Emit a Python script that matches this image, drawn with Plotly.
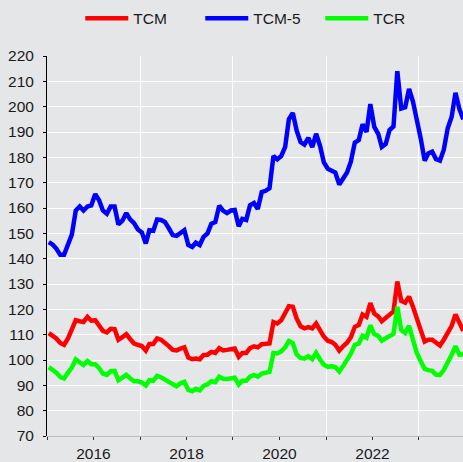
import plotly.graph_objects as go
import pandas as pd

dates = pd.date_range("2015-01-01", periods=108, freq="MS") + pd.Timedelta(days=14)

tcm5 = [146.5, 145.5, 144, 141.5, 141.5, 146, 149.5, 159, 160.6, 159, 160.6, 161,
        165.5, 163, 159, 157.7, 160.6, 160.6, 153.5, 155, 158, 155.5, 154, 151.5,
        150.4, 146, 151.2, 151, 155.5, 155.3, 154.5, 152, 149.3, 149, 150, 151.2,
        145.4, 144.6, 146.3, 145.4, 148.6, 150, 153.8, 154.4, 160.9, 159, 158, 159,
        159.2, 152.8, 155.7, 155.3, 161.1, 162, 159.6, 166.3, 166.8, 167.8, 180.5, 179.2,
        180.5, 184.1, 195, 197.5, 190.6, 186, 185, 187.7, 184, 189.3, 184.5, 178,
        175.5, 174.8, 174, 169.3, 171.4, 174, 178.3, 185.8, 186.8, 193, 190, 201,
        192, 189.3, 184.1, 185.3, 190.8, 192.2, 214, 199.3, 199.8, 207, 202, 195.1,
        187.4, 178.7, 181.5, 182.2, 179.3, 178.7, 183, 191.5, 196, 205.5, 199, 195]

tcm = [110.6, 109.5, 108.5, 106.7, 106, 108.5, 112, 115.7, 115.3, 115, 117, 115.5,
       115.7, 113.5, 111.5, 110.9, 112.3, 112.2, 108, 109, 110.2, 108.3, 106.5, 106,
       105.5, 103.7, 106.3, 106.3, 108.5, 108, 107, 105.5, 104, 103.8, 104.5, 105,
       101, 100.3, 100.6, 100.3, 102, 102.1, 103.2, 102.8, 104.7, 103.8, 104, 104.3,
       104.5, 101.3, 102.8, 102.8, 104.7, 105.4, 105, 106.2, 106.3, 106.5, 115, 114.4,
       115.7, 118.3, 121.2, 121, 116.4, 113.3, 112.5, 113, 112.5, 114.4, 111.8, 109.2,
       107.6, 107.1, 106, 103.7, 105.4, 106.8, 109, 113.1, 113.8, 117.9, 117, 122.5,
       118.3, 117.2, 115.3, 116.6, 118.3, 119.2, 131, 123.3, 122.6, 125, 121, 115.7,
       111.8, 107.3, 108, 108, 106.7, 105.7, 108, 111, 113.5, 118, 115, 111.5]

tcr = [97.2, 96.3, 95, 93.3, 92.7, 95, 97, 100.2, 99.2, 98, 99.6, 98.3,
       98.3, 96.8, 94.6, 94.1, 95.6, 95.7, 92, 93.1, 94.1, 92.8, 91.6, 91.6,
       91.1, 89.9, 92, 91.8, 93.7, 93.2, 92.2, 91.2, 90.3, 89.6, 90.8, 91.4,
       88.2, 87.7, 88.6, 88, 89.8, 90.4, 91.6, 91.2, 93.4, 92.6, 92.5, 92.8,
       93, 90.3, 91.8, 91.8, 93.4, 94.1, 93.4, 94.6, 95, 95.3, 102.8, 102.6,
       103.4, 105, 107.5, 106.7, 102.2, 100.8, 100.5, 101.5, 100.3, 102.8, 100.2, 98.1,
       97.3, 97.5, 97.2, 95.4, 97.6, 99.8, 102.5, 106, 106.5, 109.6, 108.8, 113.7,
       110.2, 109.5, 107.6, 108.6, 109.6, 110.3, 121, 111.8, 110.6, 113.5, 108, 102.8,
       99.5, 96.5, 96, 95.7, 94.2, 94.1, 96, 99.6, 102.1, 105.5, 102.1, 102.3]

series = [("TCM", tcm, "#ff0000"), ("TCM-5", tcm5, "#0000ff"), ("TCR", tcr, "#00ff00")]

bg = "#e5e6e8"
fig = go.Figure()
for name, vals, col in series:
    fig.add_trace(go.Scatter(x=dates, y=vals, mode="lines", name=name,
                             line=dict(color=col, width=4.5)))

fig.update_layout(
    width=463, height=462,
    margin=dict(l=47, r=0, t=56, b=19),
    paper_bgcolor=bg, plot_bgcolor=bg,
    font=dict(family="Liberation Sans, Arial, sans-serif", size=15.5, color="#1a1a1a"),
    showlegend=True,
    legend=dict(orientation="h", x=0.08, xanchor="left", y=1.098, yanchor="middle",
                bgcolor="rgba(0,0,0,0)", font=dict(size=15.5),
                itemwidth=43, entrywidth=62, entrywidthmode="pixels"),
)
fig.update_xaxes(
    type="date",
    range=["2015-01-01", "2023-12-13"],
    tick0="2016-01-01", dtick="M24", tickformat="%Y",
    ticks="outside", ticklen=3, tickcolor="#333333",
    showgrid=False, zeroline=False,
    showline=True, linecolor="#bdbdbd", linewidth=1,
    minor=dict(dtick="M12", tick0="2015-01-01", ticks="outside", ticklen=3,
               tickcolor="#333333", showgrid=True, gridcolor="#ffffff", gridwidth=1.3),
)
fig.update_yaxes(
    range=[70, 220], dtick=10, tick0=70,
    ticks="outside", ticklen=3, tickcolor="#000000",
    showgrid=True, gridcolor="#ffffff", gridwidth=1.3,
    zeroline=False, showline=True, linecolor="#000000", linewidth=1,
    ticklabelstandoff=6,
)

fig.write_html("out.html", config={"displayModeBar": False},
               post_script="document.body.style.margin='0';document.body.style.overflow='hidden';")
